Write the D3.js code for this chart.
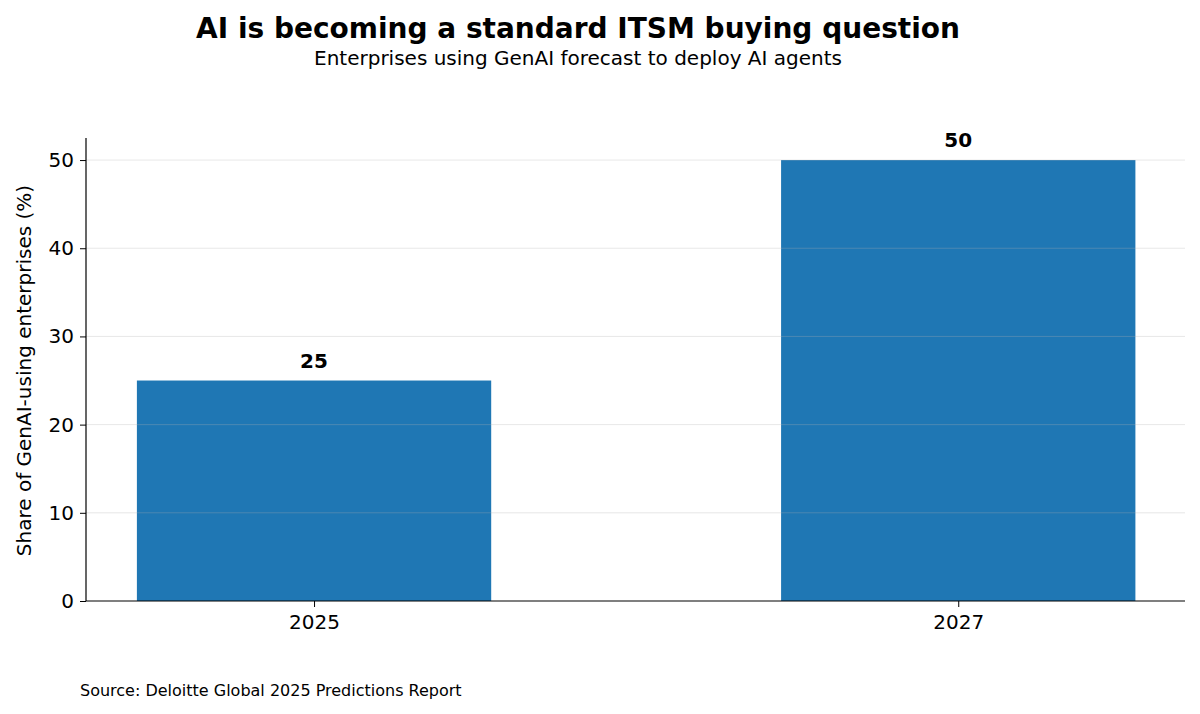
<!DOCTYPE html>
<html>
<head>
<meta charset="utf-8">
<script src="https://cdn.jsdelivr.net/npm/d3@7"></script>
<style>
  body { margin: 0; background: #fff; }
  text { font-family: "DejaVu Sans", sans-serif; }
</style>
</head>
<body>
<svg id="chart" width="1200" height="714"></svg>
<script>
// data
const years = ["2025", "2027"];
const shares = [25, 50];
const yTicks = [0, 10, 20, 30, 40, 50];

const svg = d3.select("#chart");
const plotL = 86, plotR = 1185, plotT = 138, plotB = 601;

const x = d3.scaleLinear().domain([-0.354, 1.352]).range([plotL, plotR]);
const y = d3.scaleLinear().domain([0, 52.5]).range([plotB, plotT]);
const barW = 0.55;

// title
svg.append("text").attr("x", 578).attr("y", 38).attr("text-anchor", "middle")
  .attr("font-size", 28).attr("font-weight", "bold").text("AI is becoming a standard ITSM buying question");
svg.append("text").attr("x", 578).attr("y", 65).attr("text-anchor", "middle")
  .attr("font-size", 20).text("Enterprises using GenAI forecast to deploy AI agents");

// bars
svg.selectAll("rect.bar").data(shares).join("rect")
  .attr("class", "bar")
  .attr("x", (d, i) => x(i - barW / 2))
  .attr("width", (d, i) => x(i + barW / 2) - x(i - barW / 2))
  .attr("y", d => y(d))
  .attr("height", d => plotB - y(d))
  .attr("fill", "#1f77b4");

// grid (drawn over bars, faint)
svg.selectAll("line.grid").data(yTicks.slice(1)).join("line")
  .attr("x1", plotL).attr("x2", plotR)
  .attr("y1", d => y(d)).attr("y2", d => y(d))
  .attr("stroke", "#b0b0b0").attr("stroke-opacity", 0.3).attr("stroke-width", 1);

// value labels
svg.selectAll("text.val").data(shares).join("text")
  .attr("x", (d, i) => x(i)).attr("y", d => y(d) - 13)
  .attr("text-anchor", "middle").attr("font-size", 20).attr("font-weight", "bold")
  .text(d => d);

// axes
const yAxis = svg.append("g").attr("transform", `translate(${plotL},0)`)
  .call(d3.axisLeft(y).tickValues(yTicks).tickSize(6).tickPadding(6));
yAxis.select(".domain").attr("d", `M0,${plotT}V${plotB}`).attr("stroke", "#000").attr("stroke-width", 1.2);
yAxis.selectAll("text").attr("font-size", 20).attr("font-family", "DejaVu Sans");

const xAxis = svg.append("g").attr("transform", `translate(0,${plotB})`)
  .call(d3.axisBottom(x).tickValues([0, 1]).tickFormat((d) => years[d]).tickSize(6).tickPadding(8));
xAxis.select(".domain").attr("d", `M${plotL},0H${plotR}`).attr("stroke", "#000").attr("stroke-width", 1.2);
xAxis.selectAll("text").attr("font-size", 20).attr("font-family", "DejaVu Sans");

svg.append("text").attr("transform", `translate(31,${(plotT + plotB) / 2 + 1}) rotate(-90)`)
  .attr("text-anchor", "middle").attr("font-size", 20).text("Share of GenAI-using enterprises (%)");

svg.append("text").attr("x", 80).attr("y", 696).attr("font-size", 16)
  .text("Source: Deloitte Global 2025 Predictions Report");
</script>
</body>
</html>
